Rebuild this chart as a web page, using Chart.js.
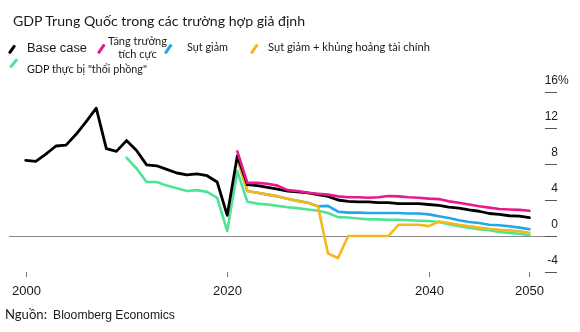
<!DOCTYPE html>
<html lang="vi">
<head>
<meta charset="utf-8">
<script src="https://cdn.jsdelivr.net/npm/chart.js@4.4.1/dist/chart.umd.min.js"></script>
<style>
  html, body { margin: 0; padding: 0; background: #fff; }
  #wrap { position: relative; width: 580px; height: 332px; overflow: hidden; }
  #chart { position: absolute; left: 0; top: 0; }
  .txt { position: absolute; white-space: nowrap; color: #1a1a1a; line-height: 1; font-size: 12px; }
  .geo { font-family: "Lato", "Noto Sans", sans-serif; }
  .grot { font-family: "Liberation Sans", Arial, sans-serif; }
  .slash { position: absolute; height: 2.6px; border-radius: 1px; transform-origin: left center; }
</style>
</head>
<body>
<div id="wrap">
  <canvas id="chart" width="580" height="332"></canvas>

  <div class="txt geo" data-fit="13,21,292">GDP Trung Quốc trong các trường hợp giả định</div>

  <div class="slash" style="left:9px; top:52px; width:10px; background:#000; transform:rotate(-55deg);"></div>
  <div class="txt grot" data-fit="27,48,60">Base case</div>

  <div class="slash" style="left:98px; top:52px; width:11px; background:#e8198b; transform:rotate(-55deg);"></div>
  <div class="txt geo" data-fit="108,47,59" style="text-align:center; line-height:1.2;">Tăng trưởng<br>tích cực</div>

  <div class="slash" style="left:165px; top:52px; width:11px; background:#22a7ec; transform:rotate(-55deg);"></div>
  <div class="txt geo" data-fit="187,47,41">Sụt giảm</div>

  <div class="slash" style="left:251px; top:52px; width:11px; background:#f4b81c; transform:rotate(-55deg);"></div>
  <div class="txt geo" data-fit="268,47,162">Sụt giảm + khủng hoảng tài chính</div>

  <div class="slash" style="left:10px; top:66px; width:11px; background:#4fe394; transform:rotate(-50deg);"></div>
  <div class="txt geo" data-fit="27,69,120">GDP thực bị "thổi phồng"</div>

  <div class="txt geo" data-fit="5,315,42">Nguồn:</div>
  <div class="txt grot" data-fit="53,315,122">Bloomberg Economics</div>
</div>

<script>
// years on the x axis
const years = [
  2000, 2001, 2002, 2003, 2004, 2005, 2006, 2007, 2008, 2009,
  2010, 2011, 2012, 2013, 2014, 2015, 2016, 2017, 2018, 2019,
  2020, 2021, 2022, 2023, 2024, 2025, 2026, 2027, 2028, 2029,
  2030, 2031, 2032, 2033, 2034, 2035, 2036, 2037, 2038, 2039,
  2040, 2041, 2042, 2043, 2044, 2045, 2046, 2047, 2048, 2049, 2050
];

// base case, 2000-2050
const baseCase = [
  8.4, 8.3, 9.1, 10.0, 10.1, 11.3, 12.7, 14.2, 9.7, 9.4,
  10.6, 9.5, 7.9, 7.8, 7.4, 7.0, 6.8, 6.9, 6.7, 6.0,
  2.3, 8.9, 5.7, 5.6, 5.4, 5.2, 5.0, 4.9, 4.8, 4.6,
  4.4, 4.0, 3.85, 3.8, 3.8, 3.7, 3.7, 3.6, 3.6, 3.6,
  3.5, 3.4, 3.2, 3.1, 2.9, 2.75, 2.5, 2.4, 2.25, 2.2, 2.05
];

// upside scenario, 2021-2050
const upside = [
  9.4, 5.9, 5.9, 5.8, 5.6, 5.1, 5.0, 4.8, 4.7,
  4.6, 4.4, 4.3, 4.3, 4.25, 4.3, 4.45, 4.4, 4.3, 4.25,
  4.15, 4.1, 3.85, 3.7, 3.5, 3.3, 3.15, 3.0, 2.95, 2.9, 2.8
];

// slowdown, 2021-2050
const slowdown = [
  8.6, 5.0, 4.8, 4.6, 4.4, 4.15, 3.9, 3.7, 3.3,
  3.35, 2.7, 2.6, 2.6, 2.55, 2.55, 2.55, 2.55, 2.5, 2.5,
  2.4, 2.2, 2.0, 1.75, 1.55, 1.45, 1.25, 1.2, 1.08, 0.93, 0.75
];

// slowdown + financial crisis, 2021-2050
const crisis = [
  8.6, 5.0, 4.8, 4.6, 4.4, 4.15, 3.9, 3.7, 3.3,
  -1.95, -2.45, 0, 0, 0, 0, 0, 1.25, 1.25, 1.25,
  1.1, 1.6, 1.45, 1.25, 1.08, 0.93, 0.8, 0.7, 0.63, 0.52, 0.37
];

// "inflated" real GDP, 2010-2050
const inflated = [
  8.7, 7.5, 6.0, 6.0, 5.6, 5.3, 5.0, 5.1, 4.9, 4.25,
  0.55, 7.2, 3.8, 3.6, 3.5, 3.35, 3.2, 3.1, 2.95, 2.8,
  2.55, 2.1, 2.05, 1.95, 1.85, 1.85, 1.8, 1.8, 1.75, 1.7,
  1.67, 1.55, 1.3, 1.1, 0.93, 0.75, 0.63, 0.45, 0.35, 0.25, 0.08
];

const yTicks = [16, 12, 8, 4, 0, -4];
const xTicks = [2000, 2020, 2040, 2050];

// size each text block to its box: data-fit = "left,centerY,width"
document.querySelectorAll('[data-fit]').forEach(el => {
  const [left, cy, w] = el.dataset.fit.split(',').map(Number);
  const size = 12 * w / el.getBoundingClientRect().width;
  el.style.fontSize = size.toFixed(2) + 'px';
  el.style.left = left + 'px';
  el.style.top = (cy - el.getBoundingClientRect().height / 2) + 'px';
});

function series(values, firstYear) {
  const start = years.indexOf(firstYear);
  return values.map((v, i) => ({ x: years[start + i], y: v }));
}

function line(values, firstYear, color, width) {
  return {
    data: series(values, firstYear),
    borderColor: color,
    borderWidth: width,
    pointRadius: 0,
    tension: 0,
    fill: false,
    borderJoinStyle: 'round',
    borderCapStyle: 'round'
  };
}

// zero line, tick marks and tick labels
const axisMarks = {
  id: 'axisMarks',
  beforeDatasetsDraw(chart) {
    const { ctx, chartArea, scales } = chart;
    const y0 = Math.round(scales.y.getPixelForValue(0)) + 0.5;
    ctx.save();
    ctx.strokeStyle = '#8a8a8a';
    ctx.lineWidth = 1;
    ctx.beginPath();
    ctx.moveTo(chartArea.left, y0);
    ctx.lineTo(chartArea.right, y0);
    ctx.stroke();
    ctx.restore();
  },
  afterDraw(chart) {
    const { ctx, scales } = chart;
    ctx.save();
    ctx.strokeStyle = '#555';
    ctx.lineWidth = 1;
    ctx.fillStyle = '#1a1a1a';
    ctx.font = '12px "Liberation Sans", Arial, sans-serif';
    ctx.textBaseline = 'middle';
    yTicks.forEach(v => {
      const y = Math.round(scales.y.getPixelForValue(v)) + 0.5;
      ctx.beginPath();
      ctx.moveTo(545, y);
      ctx.lineTo(557, y);
      ctx.stroke();
      ctx.textAlign = 'right';
      ctx.fillText(String(v), 558, y - 12);
      if (v === 16) {
        ctx.textAlign = 'left';
        ctx.fillText('%', 558, y - 12);
      }
    });
    ctx.strokeStyle = '#777';
    ctx.font = '13px "Liberation Sans", Arial, sans-serif';
    ctx.textAlign = 'center';
    xTicks.forEach(yr => {
      const x = Math.round(scales.x.getPixelForValue(yr)) + 0.5;
      ctx.beginPath();
      ctx.moveTo(x, 272);
      ctx.lineTo(x, 277);
      ctx.stroke();
      ctx.fillText(String(yr), x, 291);
    });
    ctx.restore();
  }
};

new Chart(document.getElementById('chart'), {
  type: 'line',
  data: {
    datasets: [
      line(upside, 2021, '#e8198b', 2.6),
      line(baseCase, 2000, '#000000', 2.8),
      line(crisis, 2021, '#f4b81c', 2.6),
      line(slowdown, 2021, '#22a7ec', 2.6),
      line(inflated, 2010, '#4fe394', 2.6)
    ]
  },
  options: {
    responsive: false,
    animation: false,
    layout: { padding: { left: 9, right: 23, top: 92, bottom: 60 } },
    plugins: { legend: { display: false }, tooltip: { enabled: false } },
    scales: {
      x: { type: 'linear', min: 1998.34, max: 2052.73, display: false },
      y: { min: -4, max: 16, display: false }
    }
  },
  plugins: [axisMarks]
});
</script>
</body>
</html>
